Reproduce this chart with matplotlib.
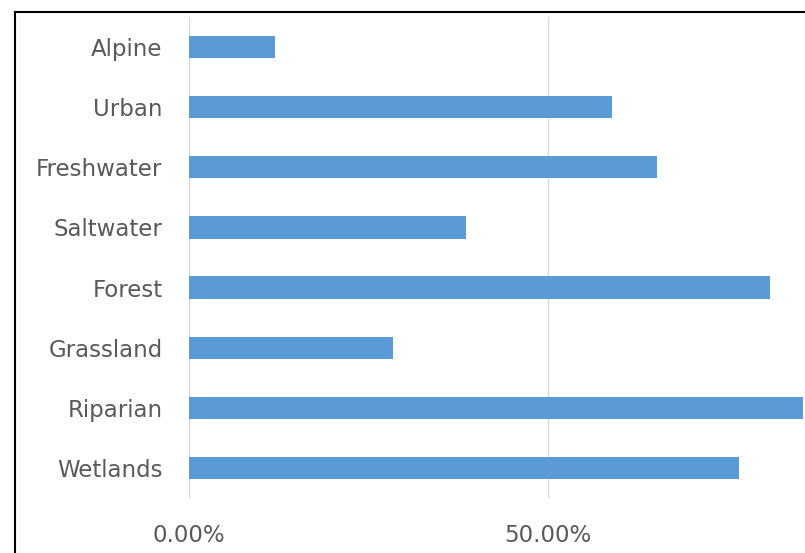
import matplotlib.pyplot as plt
from matplotlib.lines import Line2D
from matplotlib.ticker import FuncFormatter

# Data
habitats = ['Alpine', 'Urban', 'Freshwater', 'Saltwater', 'Forest', 'Grassland', 'Riparian', 'Wetlands']
shares = [12.0, 58.9, 65.2, 38.6, 80.9, 28.4, 85.5, 76.6]
xticks = [0, 50]

W, H = 805, 553
fig = plt.figure(figsize=(W / 100, H / 100), dpi=100)

# axes placed in pixel terms; right part runs off the picture like the crop
left, right, top, bottom = 189, 907, 17, 498
ax = fig.add_axes([left / W, 1 - bottom / H, (right - left) / W, (bottom - top) / H])

ypos = range(len(habitats))
ax.barh(ypos, shares, height=0.37, color='#5B9BD5', zorder=3)
ax.set_yticks(list(ypos))
ax.set_yticklabels(habitats)
ax.set_ylim(len(habitats) - 0.5, -0.5)
ax.set_xlim(0, 100)
ax.set_xticks(xticks)
ax.xaxis.set_major_formatter(FuncFormatter(lambda v, p: f'{v:.2f}%'))

ax.grid(axis='x', color='#D9D9D9', linewidth=1, zorder=0)
for s in ax.spines.values():
    s.set_visible(False)
ax.tick_params(length=0, labelsize=16.5, labelcolor='#595959')
ax.tick_params(axis='y', pad=19)
ax.tick_params(axis='x', pad=19)

# black frame edges of the cropped chart area
fig.add_artist(Line2D([15 / W, 15 / W], [0, 1 - 12 / H], color='black', linewidth=1.5))
fig.add_artist(Line2D([15 / W, 1], [1 - 12 / H, 1 - 12 / H], color='black', linewidth=1.5))

fig.savefig('out.png', dpi=100)
